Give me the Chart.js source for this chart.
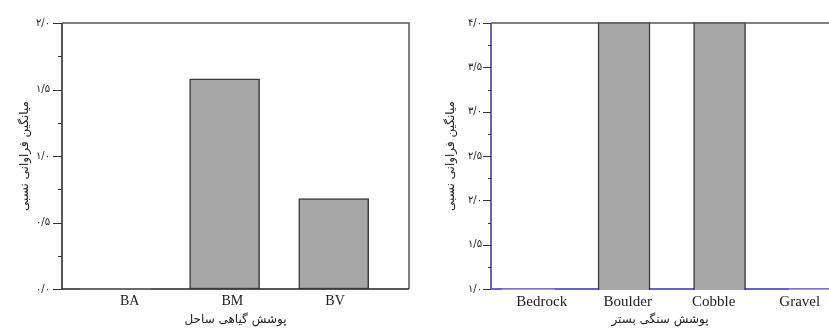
<!DOCTYPE html>
<html>
<head>
<meta charset="utf-8">
<script src="https://cdn.jsdelivr.net/npm/chart.js@4.4.0/dist/chart.umd.min.js"></script>
<style>
html, body { margin: 0; padding: 0; background: #fff; overflow: hidden; }
#wrap { position: relative; width: 829px; height: 331px; }
#left { position: absolute; left: 0; top: 0; }
#right { position: absolute; left: 420px; top: 0; }
</style>
</head>
<body>
<div id="wrap">
  <canvas id="left" width="420" height="331"></canvas>
  <canvas id="right" width="409" height="331"></canvas>
</div>
<script>
// data
const vegCategories = ['BA', 'BM', 'BV'];
const vegValues = [0, 1.58, 0.68];
const vegTicks = [0, 0.5, 1.0, 1.5, 2.0];

const bedCategories = ['Bedrock', 'Boulder', 'Cobble', 'Gravel'];
const bedValues = [1.0, 4.4, 4.3, 1.0];
const bedTicks = [1.0, 1.5, 2.0, 2.5, 3.0, 3.5, 4.0];

const yTitle = 'میانگین فراوانی نسبی';
const vegTitle = 'پوشش گیاهی ساحل';
const bedTitle = 'پوشش سنگی بستر';

const faDigits = '۰۱۲۳۴۵۶۷۸۹';
const fa = v => v.toFixed(1).replace('.', '/').replace(/[0-9]/g, d => faDigits[d]);

const barFill = '#a6a6a6';
const barEdge = '#3a3a3a';
const arabicFont = 'DejaVu Sans';

// axes drawn by hand so the box, minor ticks and colours look like the original
const framePlugin = {
  id: 'frame',
  beforeDatasetsDraw(chart, args, opts) {
    const { ctx, chartArea: a } = chart;
    ctx.save();
    ctx.lineWidth = opts.axisWidth;
    ctx.strokeStyle = opts.axisColor;
    ctx.beginPath();
    ctx.moveTo(a.left, a.top);
    ctx.lineTo(a.left, a.bottom);
    ctx.lineTo(a.right, a.bottom);
    ctx.stroke();
    ctx.restore();
  },
  afterDatasetsDraw(chart, args, opts) {
    const { ctx, chartArea: a } = chart;
    const y = chart.scales.y;
    ctx.save();
    ctx.lineWidth = 1.5;
    ctx.strokeStyle = opts.frameColor;
    ctx.beginPath();
    ctx.moveTo(a.left, a.top);
    ctx.lineTo(a.right, a.top);
    if (opts.drawRight) ctx.lineTo(a.right, a.bottom);
    ctx.stroke();

    ctx.lineWidth = 1;
    ctx.strokeStyle = opts.tickColor;
    for (let v = y.min; v <= y.max + 1e-9; v += 0.25) {
      const p = Math.round(y.getPixelForValue(v)) + 0.5;
      const major = Math.abs(v * 2 - Math.round(v * 2)) < 1e-6;
      const len = major ? opts.majorLen : opts.minorLen;
      ctx.beginPath();
      ctx.moveTo(a.left - len, p);
      ctx.lineTo(a.left, p);
      ctx.stroke();
    }
    ctx.restore();
  }
};

function makeChart(el, cfg) {
  const base = cfg.ticks[0];
  const tickList = s => { s.ticks = cfg.categories.map((c, i) => ({ value: i + 1 })); };
  return new Chart(el, {
    type: 'bar',
    data: {
      datasets: [{
        data: cfg.values.map((v, i) => ({ x: i + 1, y: v })),
        backgroundColor: barFill,
        borderColor: barEdge,
        // bars sitting on the axis minimum have no visible outline
        borderWidth: cfg.values.map(v => (v > base ? 1.5 : 0)),
        borderSkipped: false,
        barThickness: cfg.barWidth,
        clip: 1
      }]
    },
    options: {
      responsive: false,
      animation: false,
      layout: { padding: { top: 23, right: cfg.padRight, bottom: 0, left: 0 } },
      plugins: {
        legend: { display: false },
        tooltip: { enabled: false },
        frame: {
          axisColor: cfg.axisColor,
          axisWidth: cfg.axisWidth,
          frameColor: '#555555',
          tickColor: '#333333',
          drawRight: cfg.drawRight,
          majorLen: cfg.majorLen,
          minorLen: cfg.minorLen
        }
      },
      scales: {
        // bar positions
        x: {
          type: 'linear',
          display: false,
          offset: false,
          min: cfg.xMin,
          max: cfg.xMax,
          afterBuildTicks: tickList
        },
        // category names, placed a little apart from the bars as in the original
        xl: {
          type: 'linear',
          position: 'bottom',
          offset: false,
          min: cfg.lMin,
          max: cfg.lMax,
          grid: { display: false, drawTicks: false },
          border: { display: false },
          afterBuildTicks: tickList,
          ticks: {
            callback: v => cfg.categories[v - 1] ?? '',
            font: { family: 'Liberation Serif', size: cfg.labelSize },
            color: '#222222',
            padding: 4,
            maxRotation: 0,
            autoSkip: false
          },
          title: {
            display: true,
            text: cfg.xTitle,
            font: { family: arabicFont, size: 12 },
            color: '#222222',
            padding: { top: 0, bottom: 4 }
          },
          afterFit: s => { s.height = 42; s.paddingLeft = 0; s.paddingRight = 0; }
        },
        y: {
          min: base,
          max: cfg.ticks[cfg.ticks.length - 1],
          afterBuildTicks: s => { s.ticks = cfg.ticks.map(v => ({ value: v })); },
          grid: { display: false, drawTicks: false },
          border: { display: false },
          ticks: {
            callback: v => fa(v),
            font: { family: arabicFont, size: 10 },
            color: '#222222',
            padding: cfg.tickPad
          },
          title: {
            display: true,
            text: yTitle,
            font: { family: arabicFont, size: 12 },
            color: '#222222',
            padding: { top: cfg.yTitlePad, bottom: 0 }
          },
          afterFit: s => { s.width = cfg.yWidth; s.paddingTop = 0; s.paddingBottom = 0; }
        }
      }
    },
    plugins: [framePlugin]
  });
}

makeChart(document.getElementById('left'), {
  categories: vegCategories,
  values: vegValues,
  ticks: vegTicks,
  xTitle: vegTitle,
  xMin: 0.51,
  xMax: 3.69,
  lMin: 0.34,
  lMax: 3.72,
  barWidth: 70,
  padRight: 11,
  yWidth: 62,
  yTitlePad: 18,
  tickPad: 12,
  majorLen: 9,
  minorLen: 4,
  labelSize: 14,
  axisColor: '#222222',
  axisWidth: 1.5,
  drawRight: true
});

makeChart(document.getElementById('right'), {
  categories: bedCategories,
  values: bedValues,
  ticks: bedTicks,
  xTitle: bedTitle,
  xMin: 0.607,
  xMax: 4.146,
  lMin: 0.41,
  lMax: 4.34,
  barWidth: 52,
  padRight: 0,
  yWidth: 71,
  yTitlePad: 24,
  tickPad: 9,
  majorLen: 8,
  minorLen: 3,
  labelSize: 15,
  axisColor: '#6464c8',
  axisWidth: 2,
  drawRight: false
});
</script>
</body>
</html>
